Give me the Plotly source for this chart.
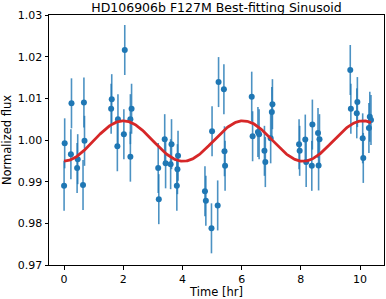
import numpy as np
import plotly.graph_objects as go

time_hr = [0.00, 0.02, 0.23, 0.25, 0.44, 0.46, 0.64, 0.67, 0.69,
           1.59, 1.61, 1.80, 1.82, 2.02, 2.05, 2.24, 2.24, 2.28,
           3.18, 3.20, 3.40, 3.43, 3.60, 3.63, 3.81, 3.83, 3.85,
           4.76, 4.79, 4.98, 5.00, 5.19, 5.22, 5.40, 5.42, 5.44,
           6.34, 6.37, 6.55, 6.59, 6.77, 6.80, 6.98, 7.02, 7.04,
           7.94, 7.96, 8.15, 8.18, 8.37, 8.39, 8.58, 8.60, 8.63,
           9.67, 9.69, 9.89, 9.91, 10.09, 10.11, 10.30, 10.33, 10.37]
flux = [0.9890, 0.9992, 0.9966, 1.0088, 0.9933, 0.9954, 0.9892, 1.0090, 0.9998,
        1.0075, 1.0098, 0.9985, 1.0050, 1.0014, 1.0216, 0.9960, 1.0050, 1.0075,
        0.9933, 0.9858, 1.0002, 0.9944, 0.9942, 0.9990, 0.9890, 0.9930, 0.9962,
        0.9877, 0.9854, 0.9788, 1.0021, 0.9843, 1.0139, 1.0122, 0.9973, 0.9938,
        1.0104, 1.0009, 1.0019, 1.0014, 0.9974, 0.9947, 1.0004, 1.0067, 1.0086,
        0.9990, 0.9974, 1.0001, 0.9947, 0.9938, 1.0037, 1.0017, 0.9939, 1.0002,
        1.0168, 1.0075, 1.0064, 1.0091, 1.0004, 0.9957, 1.0029, 1.0056, 1.0048]
flux_err = [0.006] * len(flux)

# best-fitting sinusoid parameters
fit_mean = 0.99975
fit_amp = 0.00485
fit_period = 4.05
fit_tmax = 2.0

t_model = np.linspace(min(time_hr), max(time_hr), 400)
f_model = fit_mean + fit_amp * np.cos(2 * np.pi * (t_model - fit_tmax) / fit_period)

fig = go.Figure()
fig.add_trace(go.Scatter(
    x=time_hr, y=flux, mode="markers",
    marker=dict(color="#1f77b4", size=6),
    error_y=dict(type="data", array=flux_err, visible=True,
                 color="rgba(31,119,180,0.8)", thickness=1.6, width=0),
    showlegend=False))
fig.add_trace(go.Scatter(
    x=t_model, y=f_model, mode="lines",
    line=dict(color="#d62728", width=2.8), showlegend=False))

axis_common = dict(showline=True, linecolor="black", linewidth=1, mirror=True,
                   ticks="outside", ticklen=3.5, tickwidth=1, tickcolor="black",
                   showgrid=False, zeroline=False, automargin=False,
                   tickfont=dict(family="DejaVu Sans", size=11, color="black"))
fig.update_xaxes(range=[-0.51, 10.81], tickvals=[0, 2, 4, 6, 8, 10],
                 title=dict(text="Time [hr]", font=dict(family="DejaVu Sans", size=11.5, color="black"), standoff=3),
                 **axis_common)
fig.update_yaxes(range=[0.97, 1.03], tickvals=[0.97, 0.98, 0.99, 1.00, 1.01, 1.02, 1.03],
                 tickformat=".2f",
                 title=dict(text="Normalized flux", font=dict(family="DejaVu Sans", size=11.5, color="black"), standoff=4),
                 **axis_common)
fig.update_layout(
    width=386, height=299,
    margin=dict(l=49, r=2, t=15, b=34, autoexpand=False),
    paper_bgcolor="white", plot_bgcolor="white",
    title=dict(text="HD106906b F127M Best-fitting Sinusoid",
               font=dict(family="DejaVu Sans", size=12.5, color="black"),
               x=0.5, xref="paper", xanchor="center", y=0.975, yref="container", yanchor="middle",
               automargin=False),
)
fig.write_html("out.html", config={"displayModeBar": False},
               post_script="document.body.style.margin='0';document.body.style.overflow='hidden';")
